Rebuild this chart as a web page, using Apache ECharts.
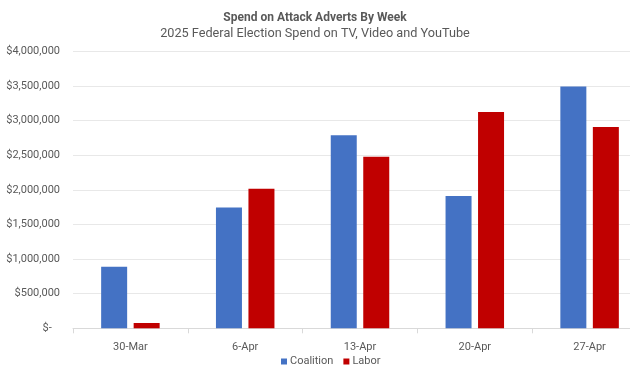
<!DOCTYPE html>
<html><head><meta charset="utf-8">
<script src="https://cdn.jsdelivr.net/npm/echarts@6/dist/echarts.min.js"></script>
<style>html,body{margin:0;padding:0;background:#fff}#c{width:630px;height:370px}</style>
</head><body><div id="c"></div>
<script>
const categories = ['30-Mar', '6-Apr', '13-Apr', '20-Apr', '27-Apr'];
const coalition = [890000, 1745000, 2790000, 1912000, 3495000];
const labor = [77000, 2017000, 2480000, 3126000, 2910000];
const yTicks = [0, 500000, 1000000, 1500000, 2000000, 2500000, 3000000, 3500000, 4000000];

const chart = echarts.init(document.getElementById('c'));
const font = 'Roboto';
chart.setOption({
  animation: false,
  title: {
    text: 'Spend on Attack Adverts By Week',
    subtext: '2025 Federal Election Spend on TV, Video and YouTube',
    left: 'center', top: 7, itemGap: 3,
    textStyle: { fontFamily: font, fontSize: 12, fontWeight: 'bold', color: '#595959' },
    subtextStyle: { fontFamily: font, fontSize: 12.7, color: '#595959' }
  },
  legend: {
    top: 354, left: 279, itemWidth: 6, itemHeight: 6, itemGap: 10, padding: [2, 2],
    icon: 'rect',
    textStyle: { fontFamily: font, fontSize: 11, color: '#595959', padding: [0, 0, 0, -2] },
    data: ['Coalition', 'Labor']
  },
  grid: { left: 73, width: 574, top: 51.5, bottom: 41.7, containLabel: false, outerBoundsMode: 'none' },
  xAxis: {
    type: 'category', data: categories,
    axisLine: { lineStyle: { color: '#d9d9d9' } },
    axisTick: { show: true, length: 5, lineStyle: { color: '#d9d9d9' } },
    axisLabel: { fontFamily: font, fontSize: 11, color: '#595959', margin: 13 }
  },
  yAxis: {
    type: 'value', min: yTicks[0], max: yTicks[yTicks.length - 1], interval: 500000,
    axisLine: { show: false }, axisTick: { show: false },
    splitLine: { lineStyle: { color: '#e8e8e8' } },
    axisLabel: {
      fontFamily: font, fontSize: 11, color: '#595959', margin: 13,
      formatter: v => v === 0 ? '$-   ' : '$' + v.toLocaleString('en-US')
    }
  },
  series: [
    { name: 'Coalition', type: 'bar', data: coalition, barWidth: 26, barGap: '25%',
      itemStyle: { color: '#4472C4' } },
    { name: 'Labor', type: 'bar', data: labor, barWidth: 26,
      itemStyle: { color: '#C00000' } }
  ]
});
</script></body></html>
